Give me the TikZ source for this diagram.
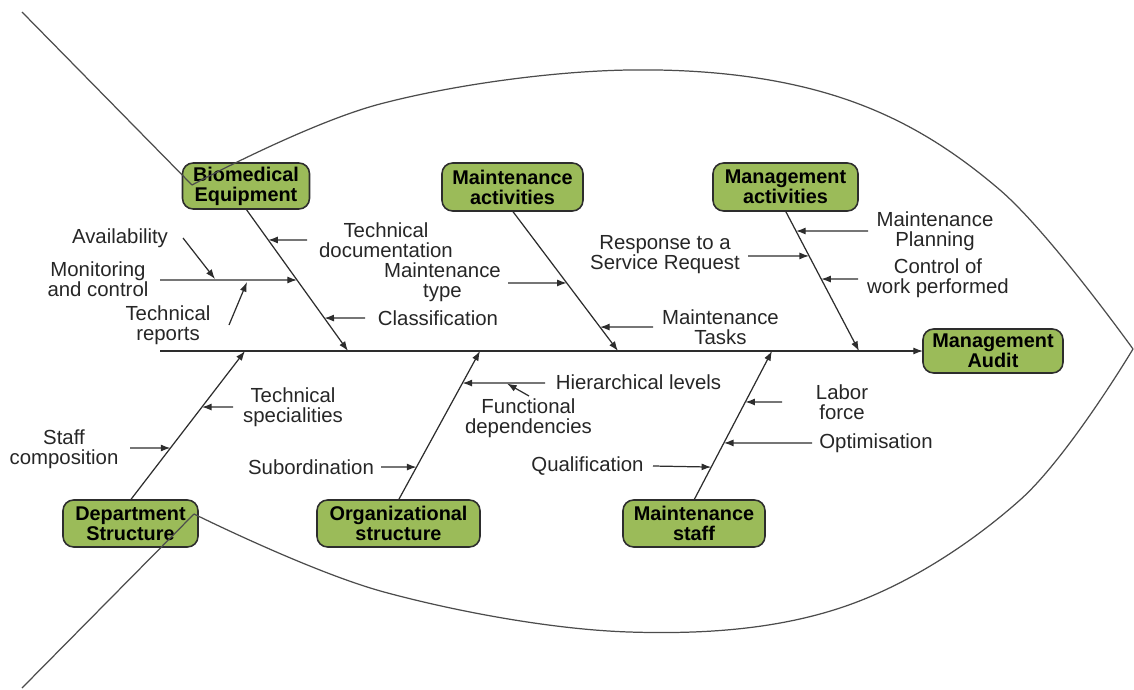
\documentclass[tikz,border=0pt]{standalone}
\usepackage{fontspec}
\setmainfont{Liberation Sans}
\usetikzlibrary{arrows.meta,calc}
\definecolor{boxgreen}{RGB}{155,187,89}
\definecolor{ink}{RGB}{45,45,45}
\begin{document}
\begin{tikzpicture}[x=0.02cm,y=-0.02cm,
  cat/.style={draw=ink, line width=0.9pt, fill=boxgreen, rounded corners=6pt, align=center,
    inner sep=0pt, outer sep=0pt, font=\fontsize{11.3}{11.3}\selectfont\bfseries, text=black},
  lbl/.style={align=center, inner sep=0pt, font=\fontsize{11.6}{11.4}\selectfont, text=black!85},
  bone/.style={draw=ink, line width=0.7pt, -{Latex[length=5.5pt,width=4pt]}},
  arr/.style={draw=ink, line width=0.7pt, -{Latex[length=5.5pt,width=4pt]}},
  fish/.style={draw=black!70, line width=0.7pt},
]
\useasboundingbox (0,0) rectangle (1134,690);

% category boxes
\node[cat, minimum width=2.54cm, minimum height=0.92cm] (bio)   at (246,186)   {Biomedical\\Equipment};
\node[cat, minimum width=2.82cm, minimum height=0.96cm] (mact)  at (512.5,187) {Maintenance\\activities};
\node[cat, minimum width=2.90cm, minimum height=0.96cm] (mgact) at (785.5,187) {Management\\activities};
\node[cat, minimum width=2.80cm, minimum height=0.88cm] (audit) at (993,351)   {Management\\Audit};
\node[cat, minimum width=2.70cm, minimum height=0.94cm] (dept)  at (130.5,523.5) {Department\\Structure};
\node[cat, minimum width=3.26cm, minimum height=0.94cm] (org)   at (398.5,523.5) {Organizational\\structure};
\node[cat, minimum width=2.84cm, minimum height=0.94cm] (staff) at (694,523.5)   {Maintenance\\staff};

% spine
\coordinate (sp0) at (160,351);
\coordinate (b1) at (348,351);
\coordinate (b2) at (618,351);
\coordinate (b3) at (859,351);
\coordinate (b4) at (245,351);
\coordinate (b5) at (480,351);
\coordinate (b6) at (772,351);
\draw[arr] (sp0) -- (audit.west);

% bones
\draw[bone] (bio.south) -- (b1);
\draw[bone] (mact.south) -- (b2);
\draw[bone] (mgact.south) -- (b3);
\draw[bone] (dept.north) -- (b4);
\draw[bone] (org.north) -- (b5);
\draw[bone] (staff.north) -- (b6);

% labels
\node[lbl] (avail) at (120,238) {Availability};
\node[lbl] (moni)  at (98,279)  {Monitoring\\and control};
\node[lbl] (trep)  at (168,325) {Technical\\reports};
\node[lbl] (tdoc)  at (386,240) {Technical\\documentation};
\node[lbl] (clas)  at (438,318) {Classification};
\node[lbl] (mtype) at (442.5,282) {Maintenance\\type};
\node[lbl] (mtask) at (720.5,327) {Maintenance\\Tasks};
\node[lbl] (resp)  at (665,255) {Response to a\\Service Request};
\node[lbl] (plan)  at (935,231) {Maintenance\\Planning};
\node[lbl] (ctrl)  at (938,278) {Control of\\work performed};
\node[lbl] (tspec) at (293,407) {Technical\\specialities};
\node[lbl] (scomp) at (64,449)  {Staff\\composition};
\node[lbl] (subo)  at (311,467) {Subordination};
\node[lbl] (hier)  at (638.5,382) {Hierarchical levels};
\node[lbl] (func)  at (528.5,418.5) {Functional\\dependencies};
\node[lbl] (qual)  at (587.5,466) {Qualification};
\node[lbl] (labor) at (842,402) {Labor\\force};
\node[lbl] (opti)  at (876,443) {Optimisation};

% tips on bones
\coordinate (tdocP) at ($(bio.south)!0.218!(b1)$);
\coordinate (moniP) at ($(bio.south)!0.5!(b1)$);
\coordinate (clasP) at ($(bio.south)!0.768!(b1)$);
\coordinate (mtypeP) at ($(mact.south)!0.514!(b2)$);
\coordinate (mtaskP) at ($(mact.south)!0.829!(b2)$);
\coordinate (planP) at ($(mgact.south)!0.143!(b3)$);
\coordinate (respP) at ($(mgact.south)!0.321!(b3)$);
\coordinate (ctrlP) at ($(mgact.south)!0.486!(b3)$);
\coordinate (tspecP) at ($(dept.north)!0.624!(b4)$);
\coordinate (scompP) at ($(dept.north)!0.349!(b4)$);
\coordinate (hierP) at ($(org.north)!0.785!(b5)$);
\coordinate (suboP) at ($(org.north)!0.221!(b5)$);
\coordinate (laborP) at ($(staff.north)!0.658!(b6)$);
\coordinate (optiP) at ($(staff.north)!0.383!(b6)$);
\coordinate (qualP) at ($(staff.north)!0.221!(b6)$);

% tails near labels
\coordinate (tdocT) at (307,240);
\coordinate (moniT) at (160,280);
\coordinate (clasT) at (365,318);
\coordinate (mtypeT) at (508,283);
\coordinate (mtaskT) at (653,327);
\coordinate (planT) at (868,231);
\coordinate (respT) at (748,256);
\coordinate (ctrlT) at (858,279);
\coordinate (tspecT) at (233,407);
\coordinate (scompT) at (130,448);
\coordinate (hierT) at (545,383);
\coordinate (suboT) at (381,467);
\coordinate (laborT) at (782,402);
\coordinate (optiT) at (812,443);
\coordinate (qualT) at (653,466);

\draw[arr] (tdocT) -- (tdocP);
\draw[arr] (moniT) -- (moniP);
\draw[arr] (clasT) -- (clasP);
\draw[arr] (mtypeT) -- (mtypeP);
\draw[arr] (mtaskT) -- (mtaskP);
\draw[arr] (planT) -- (planP);
\draw[arr] (respT) -- (respP);
\draw[arr] (ctrlT) -- (ctrlP);
\draw[arr] (tspecT) -- (tspecP);
\draw[arr] (scompT) -- (scompP);
\draw[arr] (hierT) -- (hierP);
\draw[arr] (suboT) -- (suboP);
\draw[arr] (laborT) -- (laborP);
\draw[arr] (optiT) -- (optiP);
\draw[arr] (qualT) -- (qualP);

% secondary arrows
\coordinate (availT) at (183,238);
\coordinate (availP) at (215,279);
\coordinate (trepT) at (229,325);
\coordinate (trepP) at (247,282);
\coordinate (funcT) at (529,396);
\coordinate (funcP) at (507,383.5);
\draw[arr] (availT) -- (availP);
\draw[arr] (trepT) -- (trepP);
\draw[arr] (funcT) -- (funcP);

% fish outline
\coordinate (tailTop) at (22,12);
\coordinate (tailBot) at (22,688);
\coordinate (headU) at (192,185);
\coordinate (headL) at (194,514);
\coordinate (nose) at (1133,349);
\draw[fish] (tailTop) -- (headU);
\draw[fish] (tailBot) -- (headL);
\draw[fish] plot[smooth, tension=0.6] coordinates {(192,185) (380,104) (629,70) (839,97) (1000,190) (1133,349)};
\draw[fish] plot[smooth, tension=0.6] coordinates {(194,514) (384,592) (629,632) (843,607) (1020,500) (1133,349)};
\end{tikzpicture}
\end{document}
